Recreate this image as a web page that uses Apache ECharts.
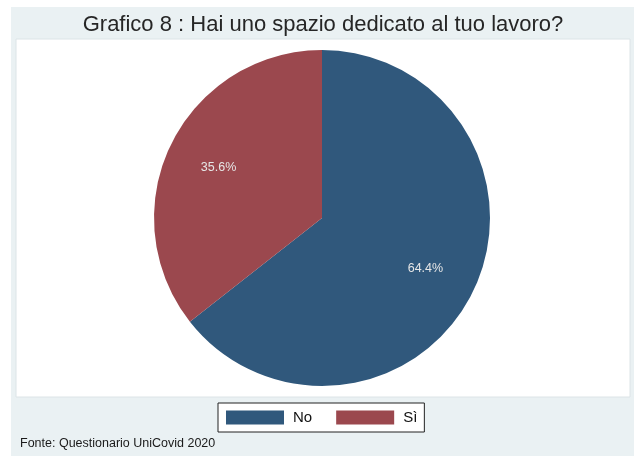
<!DOCTYPE html>
<html>
<head>
<meta charset="utf-8">
<script src="https://cdn.jsdelivr.net/npm/echarts@6/dist/echarts.min.js"></script>
<style>
  html, body { margin: 0; padding: 0; background: #ffffff; }
  #chart { width: 634px; height: 456px; }
</style>
</head>
<body>
<div id="chart"></div>
<script>
// Survey answers and their shares (percent)
const categories = ['No', 'Sì'];
const shares = [64.4, 35.6];
const sliceColors = ['#30587C', '#9B484E'];
const titleText = 'Grafico 8 : Hai uno spazio dedicato al tuo lavoro?';
const sourceText = 'Fonte: Questionario UniCovid 2020';

const FONT = 'Liberation Sans, Arial, sans-serif';
const CX = 322, CY = 218, R = 168;

const pieData = categories.map((name, i) => ({
  name: name,
  value: shares[i],
  itemStyle: { color: sliceColors[i] }
}));

const chart = echarts.init(document.getElementById('chart'), null, { renderer: 'canvas' });

chart.setOption({
  animation: false,
  backgroundColor: '#ffffff',
  graphic: [
    // outer graph region
    { type: 'rect', z: -10, shape: { x: 11, y: 7, width: 623, height: 449 },
      style: { fill: '#EAF1F3' } },
    // plot region
    { type: 'rect', z: -9, shape: { x: 16, y: 39, width: 614, height: 358 },
      style: { fill: '#ffffff', stroke: '#DCE4E7', lineWidth: 1 } },
    { type: 'text', z: 5, x: 323, y: 25,
      style: { text: titleText, fill: '#262626', font: '22px ' + FONT,
               textAlign: 'center', textVerticalAlign: 'middle' } },
    { type: 'text', z: 5, x: 20, y: 444,
      style: { text: sourceText, fill: '#1a1a1a', font: '12.5px ' + FONT,
               textAlign: 'left', textVerticalAlign: 'middle' } }
  ],
  legend: {
    data: categories,
    left: 218,
    top: 403,
    orient: 'horizontal',
    itemWidth: 58,
    itemHeight: 14,
    itemGap: 24,
    padding: [7, 7, 7, 8],
    backgroundColor: '#ffffff',
    borderColor: '#222222',
    borderWidth: 1,
    borderRadius: 0,
    icon: 'rect',
    selectedMode: false,
    textStyle: { fontFamily: FONT, fontSize: 15, color: '#111111', padding: [0, 0, 0, 4] }
  },
  series: [
    {
      type: 'pie',
      center: [CX, CY],
      radius: [0, R],
      startAngle: 90,
      clockwise: true,
      silent: true,
      label: { show: false },
      labelLine: { show: false },
      data: pieData
    },
    {
      // transparent twin used only to place the percentage labels
      type: 'pie',
      center: [CX, CY],
      radius: [0, R * 4 / 3],
      startAngle: 90,
      clockwise: true,
      silent: true,
      z: 3,
      legendHoverLink: false,
      itemStyle: { color: 'rgba(0,0,0,0)' },
      label: {
        show: true,
        position: 'inside',
        color: '#E6E6E6',
        fontFamily: FONT,
        fontSize: 12.5,
        formatter: p => p.value.toFixed(1) + '%'
      },
      labelLine: { show: false },
      data: categories.map((name, i) => ({ name: name, value: shares[i],
        itemStyle: { color: 'rgba(0,0,0,0)' } }))
    }
  ]
});
</script>
</body>
</html>
